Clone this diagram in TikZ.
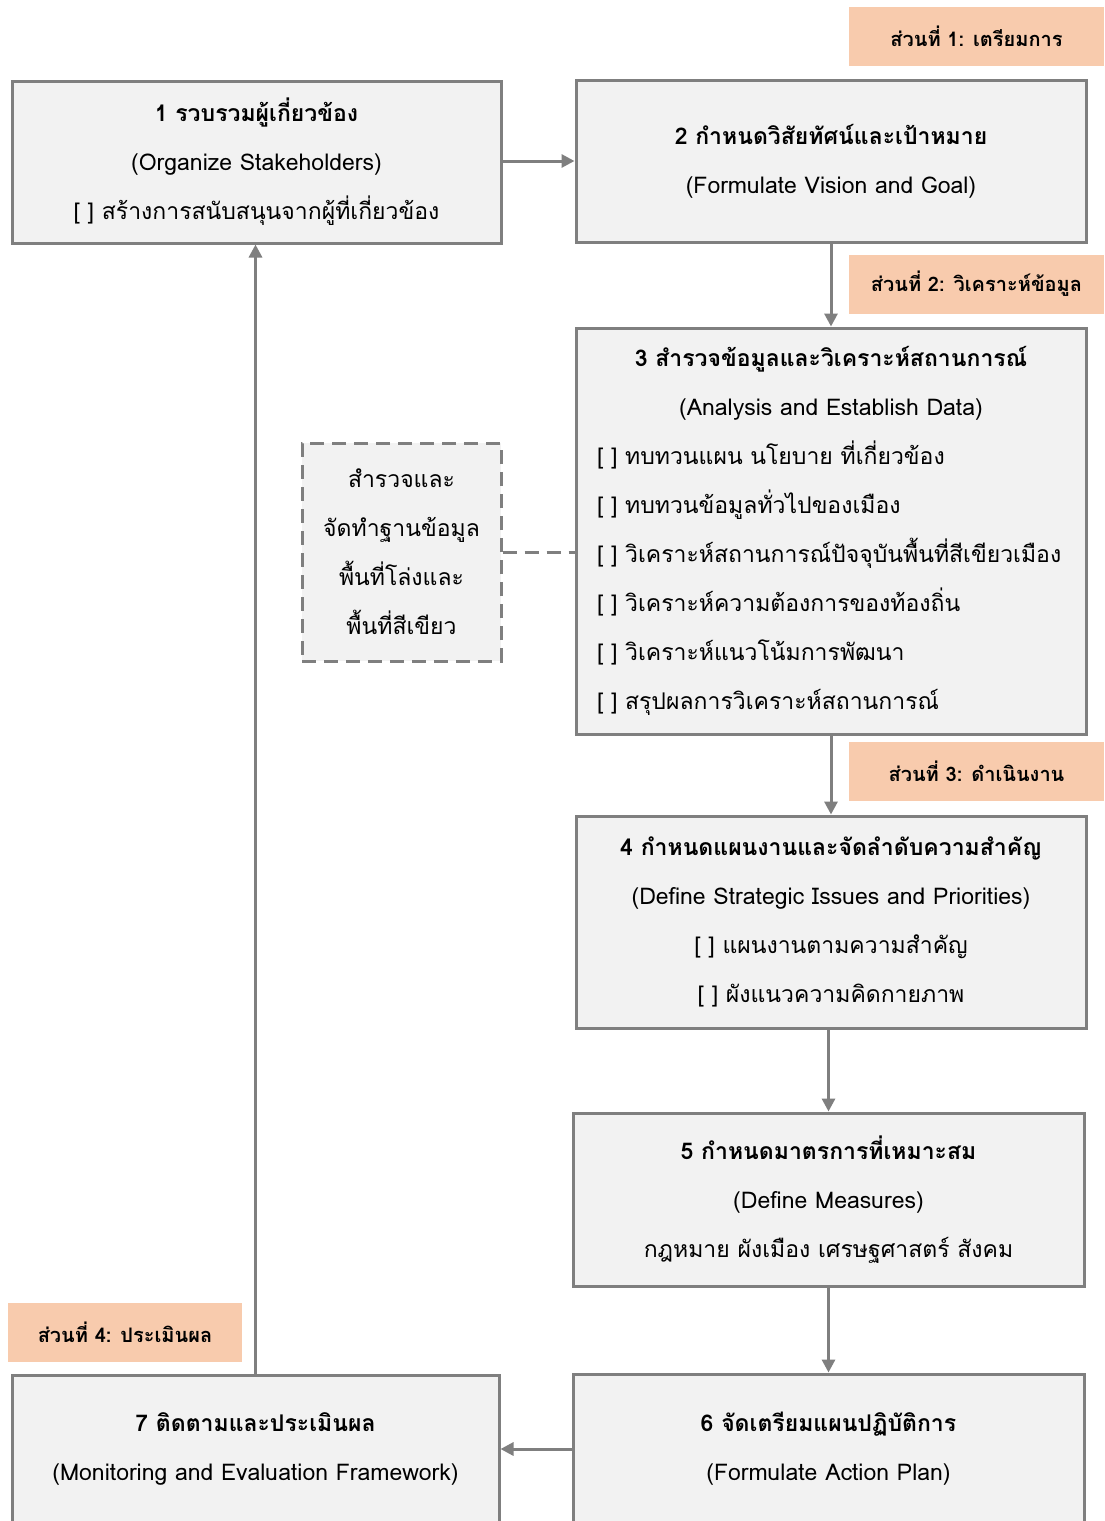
\documentclass[tikz,border=0pt]{standalone}
\usepackage{fontspec}
\setmainfont[Script=Thai]{Loma}
\usetikzlibrary{arrows.meta}
\definecolor{boxfill}{HTML}{F2F2F2}
\definecolor{boxline}{HTML}{7F7F7F}
\definecolor{peach}{HTML}{F8CBAD}
\newcommand\ctrline[1]{\makebox[\linewidth][c]{#1}}
\begin{document}
\begin{tikzpicture}[x=1pt,y=-1pt,
  box/.style={draw=boxline, fill=boxfill, line width=3pt, inner sep=0pt, align=center,
    font=\fontsize{23}{49}\selectfont},
  tagbox/.style={fill=peach, inner sep=0pt, minimum height=59pt,
    font=\fontsize{20}{24}\selectfont\bfseries},
  conn/.style={draw=boxline, line width=3pt, -{Triangle[length=13pt,width=13pt]}},
  dashconn/.style={draw=boxline, line width=3pt, dash pattern=on 14pt off 8pt},
]
\clip (0,0) rectangle (1104,1521);
\fill[white] (0,0) rectangle (1104,1521);

\node[box, minimum width=489pt, minimum height=162pt] (b1) at (256.5,162)
  {\textbf{1 รวบรวมผู้เกี่ยวข้อง}\\(Organize Stakeholders)\\{[ ]} สร้างการสนับสนุนจากผู้ที่เกี่ยวข้อง};
\node[box, minimum width=510pt, minimum height=162pt] (b2) at (831,161)
  {\textbf{2 กำหนดวิสัยทัศน์และเป้าหมาย}\\(Formulate Vision and Goal)};
\node[box, minimum width=510pt, minimum height=406pt, align=left, text width=468pt] (b3) at (831,531)
  {\ctrline{\textbf{3 สำรวจข้อมูลและวิเคราะห์สถานการณ์}}\\
   \ctrline{(Analysis and Establish Data)}\\
   {[ ]} ทบทวนแผน นโยบาย ที่เกี่ยวข้อง\\
   {[ ]} ทบทวนข้อมูลทั่วไปของเมือง\\
   {[ ]} วิเคราะห์สถานการณ์ปัจจุบันพื้นที่สีเขียวเมือง\\
   {[ ]} วิเคราะห์ความต้องการของท้องถิ่น\\
   {[ ]} วิเคราะห์แนวโน้มการพัฒนา\\
   {[ ]} สรุปผลการวิเคราะห์สถานการณ์};
\node[box, minimum width=510pt, minimum height=212pt] (b4) at (831,922)
  {\textbf{4 กำหนดแผนงานและจัดลำดับความสำคัญ}\\(Define Strategic Issues and Priorities)\\{[ ]} แผนงานตามความสำคัญ\\{[ ]} ผังแนวความคิดกายภาพ};
\node[box, minimum width=511pt, minimum height=173pt] (b5) at (828.5,1199.5)
  {\textbf{5 กำหนดมาตรการที่เหมาะสม}\\(Define Measures)\\กฎหมาย ผังเมือง เศรษฐศาสตร์ สังคม};
\node[box, minimum width=511pt, minimum height=150pt] (b6) at (828.5,1449)
  {\textbf{6 จัดเตรียมแผนปฏิบัติการ}\\(Formulate Action Plan)};
\node[box, minimum width=487pt, minimum height=148pt] (b7) at (255.5,1449)
  {\textbf{7 ติดตามและประเมินผล}\\(Monitoring and Evaluation Framework)};
\node[box, dash pattern=on 14pt off 8pt, minimum width=199pt, minimum height=218pt] (d1) at (401.5,552)
  {สำรวจและ\\จัดทำฐานข้อมูล\\พื้นที่โล่งและ\\พื้นที่สีเขียว};

\node[tagbox, minimum width=255pt] (t1) at (976.5,36) {ส่วนที่ 1: เตรียมการ};
\node[tagbox, minimum width=255pt] (t2) at (976.5,284) {ส่วนที่ 2: วิเคราะห์ข้อมูล};
\node[tagbox, minimum width=255pt] (t3) at (976.5,771) {ส่วนที่ 3: ดำเนินงาน};
\node[tagbox, minimum width=234pt] (t4) at (125,1332) {ส่วนที่ 4: ประเมินผล};

\draw[conn] (b1.east |- b2.west) -- (b2.west);
\draw[conn] (b2.south) -- (b3.north);
\draw[conn] (b3.south) -- (b4.north);
\draw[conn] (b5.north |- b4.south) -- (b5.north);
\draw[conn] (b5.south) -- (b6.north);
\draw[conn] (b6.west) -- (b7.east);
\draw[conn] (b7.north) -- (b7.north |- b1.south);
\draw[dashconn] (d1.east) -- (d1.east -| b3.west);
\end{tikzpicture}
\end{document}
